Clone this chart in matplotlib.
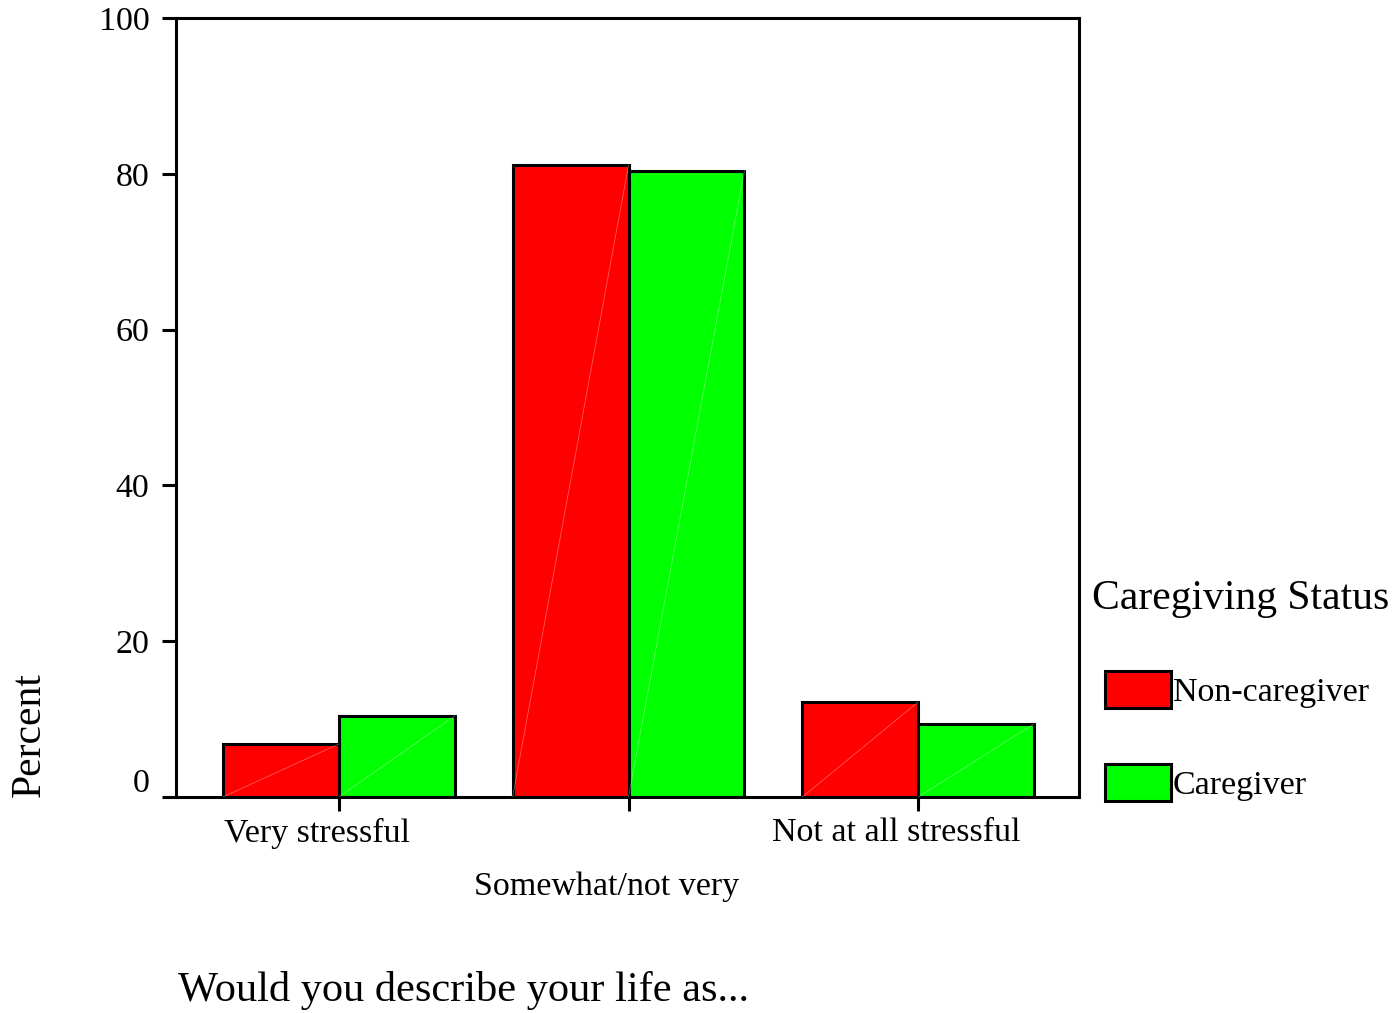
import numpy as np
import matplotlib
matplotlib.use("Agg")
import matplotlib.pyplot as plt
import matplotlib.transforms as mtransforms

# Data
categories = ["Very stressful", "Somewhat/not very", "Not at all stressful"]
non_caregiver = [6.8, 81.1, 12.2]
caregiver = [10.4, 80.4, 9.4]
series_names = ["Non-caregiver", "Caregiver"]
y_ticks = [0, 20, 40, 60, 80, 100]

plt.rcParams['font.family'] = ['Liberation Serif', 'DejaVu Serif']

fig = plt.figure(figsize=(13.99, 10.13), dpi=100)
ax = fig.add_axes([176 / 1399, 1 - 797 / 1013, (1079 - 176) / 1399, (797 - 18) / 1013])

x = np.arange(len(categories))
w = 0.4
bars_red = ax.bar(x - w / 2, non_caregiver, w, color='#ff0000', edgecolor='black',
                  linewidth=2.2, label=series_names[0], zorder=2)
bars_green = ax.bar(x + w / 2, caregiver, w, color='#00ff00', edgecolor='black',
                    linewidth=2.2, label=series_names[1], zorder=2)

# faint diagonal lines seen inside the bars
for b in list(bars_red) + list(bars_green):
    x0, y0 = b.get_x(), b.get_y()
    ax.plot([x0, x0 + b.get_width()], [y0, y0 + b.get_height()],
            color='white', alpha=0.35, linewidth=0.6, zorder=3)

ax.set_xlim(-0.562, 2.555)
ax.set_ylim(0, 100)
ax.set_yticks(y_ticks)
ax.set_xticks(x)
ax.set_xticklabels(["Very stressful", "\n" + "Somewhat/not very", "Not at all stressful"])
ax.tick_params(axis='both', labelsize=24.5, width=2.2, length=10, direction='out')
ax.tick_params(axis='x', pad=5)
ax.tick_params(axis='y', pad=9)

xl = ax.get_xticklabels()
for i, lbl in enumerate(xl):
    dy = -18 / 100 if i == 1 else 0
    lbl.set_transform(lbl.get_transform() +
                      mtransforms.ScaledTranslation(-22 / 100, dy, fig.dpi_scale_trans))
ylbls = ax.get_yticklabels()
ylbls[0].set_transform(ylbls[0].get_transform() +
                       mtransforms.ScaledTranslation(0, 17 / 100, fig.dpi_scale_trans))

for s in ax.spines.values():
    s.set_linewidth(2.2)

fig.text(30 / 1399, 1 - 735 / 1013, "Percent", rotation=90, fontsize=30,
         ha='center', va='center')
fig.text(178 / 1399, 1 - 990 / 1013, "Would you describe your life as...", fontsize=30.5,
         ha='left', va='center')
fig.text(1092 / 1399, 1 - 599 / 1013, "Caregiving Status", fontsize=30,
         ha='left', va='center')

leg = ax.legend(loc='upper left', bbox_to_anchor=(1105 / 1399, 1 - 671 / 1013),
                bbox_transform=fig.transFigure, frameon=False, fontsize=24.5,
                handlelength=1.95, handleheight=1.28, handletextpad=0.05,
                labelspacing=1.65, borderpad=0, borderaxespad=0)

fig.savefig("out.png", dpi=100, facecolor='white')
